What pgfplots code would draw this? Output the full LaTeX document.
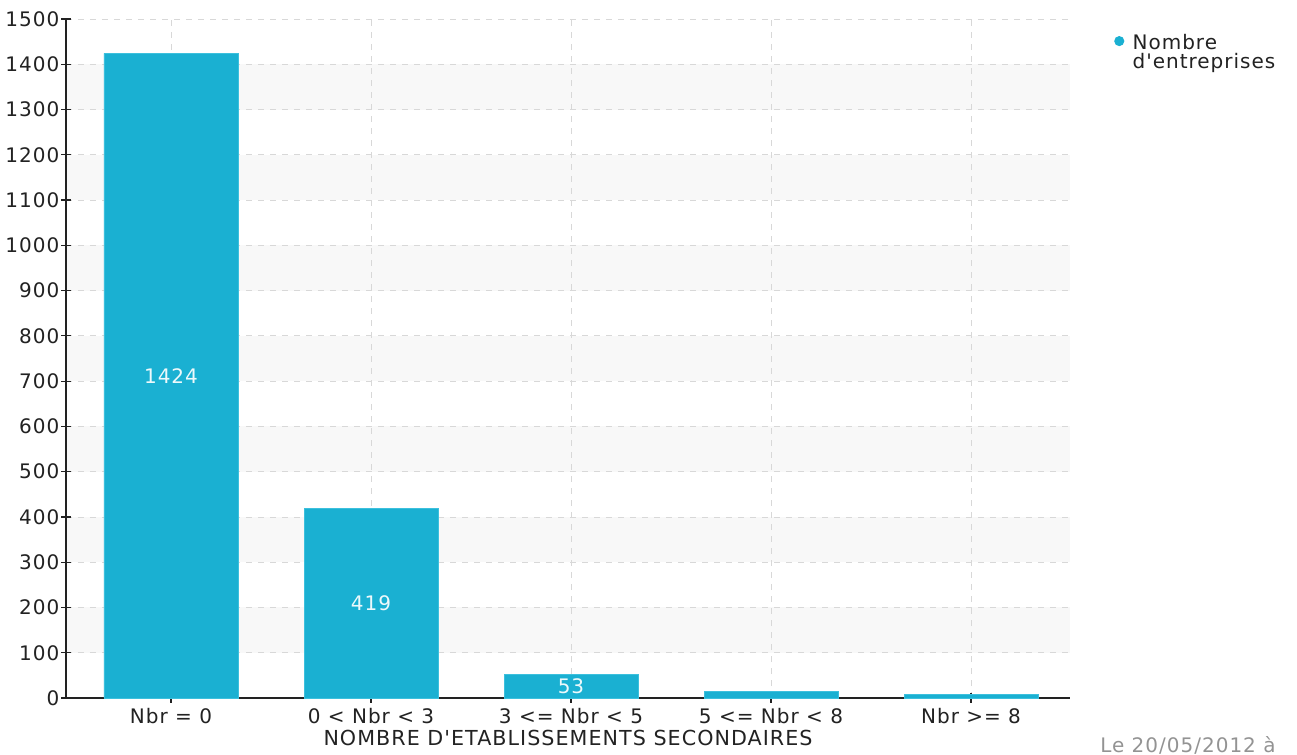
\documentclass[border=0pt]{standalone}
\usepackage{pgfplots}
\pgfplotsset{compat=1.18}
\usepackage{fontspec}
\setmainfont{DejaVu Sans}[Ligatures=TeXOff, LetterSpace=5]
\definecolor{barcyan}{HTML}{1AB0D2}
\definecolor{baredge}{HTML}{3CC0DD}
\definecolor{bandgray}{HTML}{F8F8F8}
\definecolor{gridgray}{HTML}{D8D8D8}
\definecolor{axisdark}{HTML}{222222}
\newcommand{\chartfont}{\fontsize{15}{19}\selectfont}

\begin{document}
\begin{tikzpicture}[x=1pt,y=1pt]
  \begin{axis}[
      set layers,
      scale only axis,
      width=753pt, height=509.25pt,
      xmin=-0.525, xmax=4.495,
      ymin=0, ymax=1500,
      ytick={0,100,...,1500},
      xtick={0,1,2,3,4},
      xticklabels={Nbr = 0, 0 < Nbr < 3, 3 <= Nbr < 5, 5 <= Nbr < 8, Nbr >= 8},
      axis x line*=bottom,
      axis y line*=left,
      axis line style={axisdark, line width=1.1pt, -},
      ytick style={axisdark, line width=0.9pt},
      xtick style={axisdark, line width=0.9pt},
      tick align=center,
      major tick length=7pt,
      grid=major,
      major grid style={gridgray, dash pattern=on 4.5pt off 4.5pt, line width=0.6pt},
      ticklabel style={font=\chartfont, text=axisdark},
      yticklabel style={xshift=2pt},
      xticklabel style={yshift=-1pt},
      /pgf/number format/assume math mode=true,
      /pgf/number format/1000 sep={},
      scaled y ticks=false,
      xlabel={NOMBRE D'ETABLISSEMENTS SECONDAIRES},
      xlabel style={font=\fontsize{15.5}{19}\selectfont, text=axisdark, yshift=2.5pt},
      legend style={at={(rel axis cs:1.0435,0.982)}, anchor=north west, draw=none, fill=none,
        font=\fontsize{15}{14.5}\selectfont, text=axisdark, cells={align=left, anchor=west},
        row sep=0pt, inner sep=0pt},
      legend image code/.code={
        \path[draw=none, fill=none] (0pt,-2pt) rectangle (12pt,12pt);
        \fill[barcyan, draw=none] (4pt,8.5pt) circle (3.8pt);},
    ]
    \begin{pgfonlayer}{axis background}
      \pgfplotsinvokeforeach{1,3,5,7,9,11,13}{
        \fill[bandgray] (axis cs:-0.525,#1*100) rectangle (axis cs:4.495,#1*100+100);
      }
    \end{pgfonlayer}
    \addplot[ybar, bar width=0.67, fill=barcyan, draw=baredge, line width=0.5pt]
      coordinates {(0,1424) (1,419) (2,53) (3,15) (4,7)};
    \addlegendentry{Nombre\\d'entreprises}
    \addplot[only marks, mark=none, nodes near coords, point meta=explicit symbolic,
      every node near coord/.append style={anchor=center, text=white!92!barcyan,
        font=\chartfont}, forget plot]
      coordinates {(0,712)[1424] (1,210)[419] (2,27)[53]};
    \coordinate (o) at (rel axis cs:0,0);
  \end{axis}
  \node[anchor=base west, inner sep=0pt, text=gray!85, font=\chartfont]
    at ([shift={(775.5pt,-41pt)}]o) {Le 20/05/2012 à};
  \path[use as bounding box] ([shift={(-49.5pt,-40.5pt)}]o) rectangle ++(972.75pt,564pt);
\end{tikzpicture}
\end{document}
